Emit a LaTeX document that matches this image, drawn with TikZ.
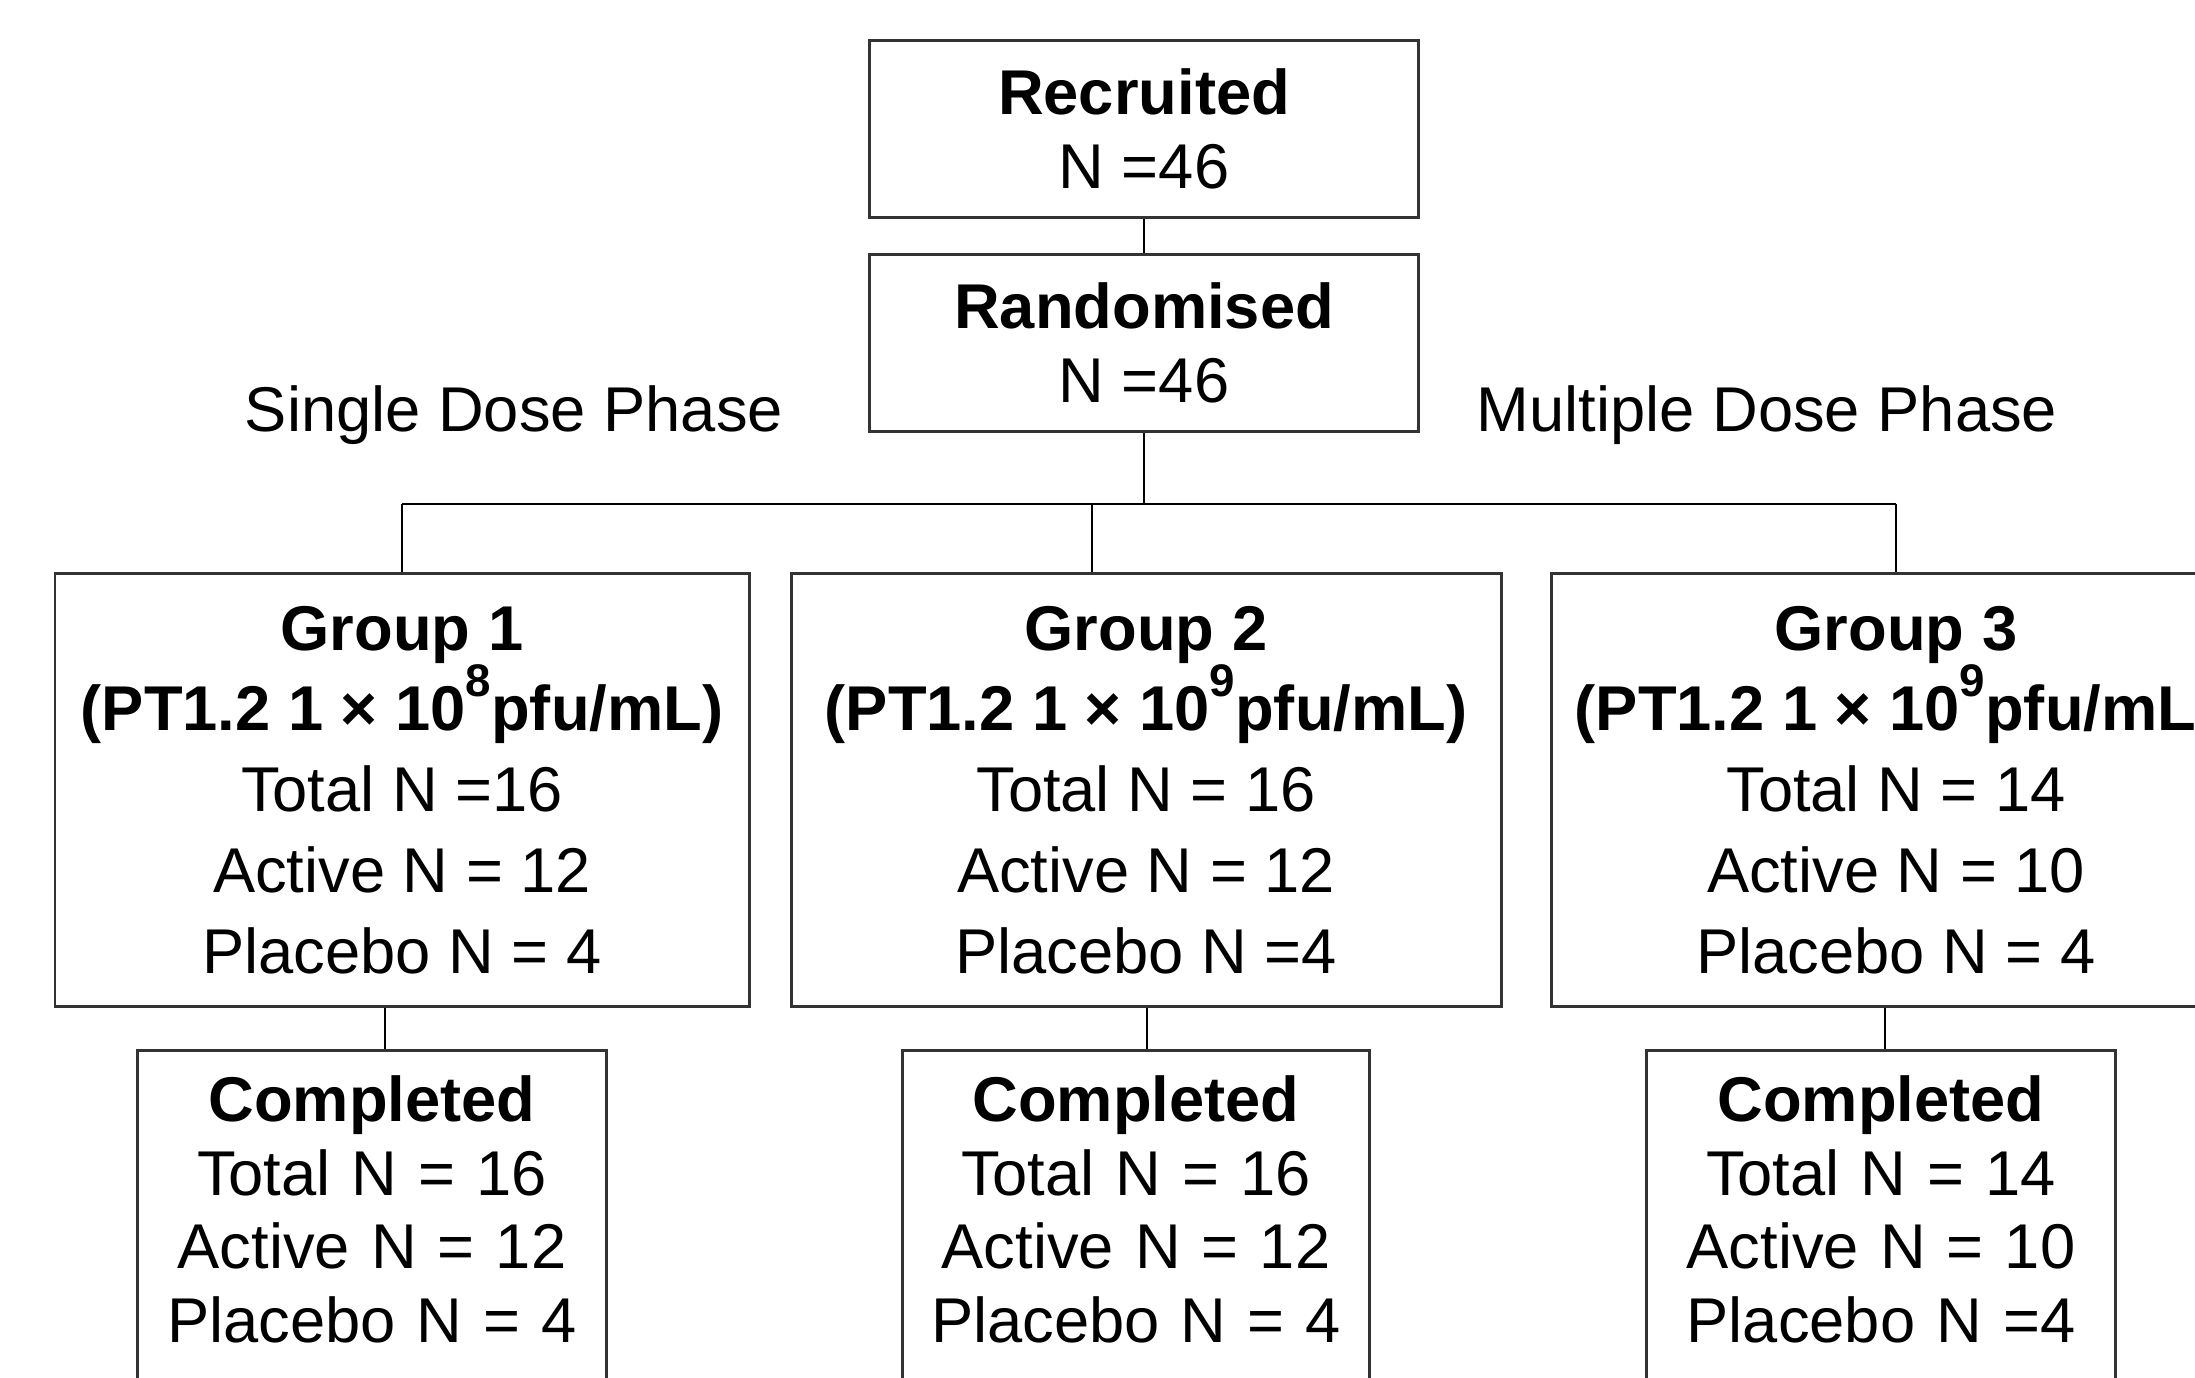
\documentclass[tikz,border=0pt]{standalone}
\usepackage{fontspec}
\setmainfont{Liberation Sans}

\begin{document}
\begin{tikzpicture}[x=1cm,y=1cm,
  font=\fontsize{18pt}{21pt}\selectfont,
  flowbox/.style={draw=black!80,line width=0.85pt,align=center,inner sep=0pt},
  topbox/.style={flowbox,minimum width=5.49cm,minimum height=1.77cm},
  groupbox/.style={flowbox,minimum height=4.33cm,font=\fontsize{18pt}{23pt}\selectfont},
  donebox/.style={flowbox,anchor=north,text width=#1,inner ysep=0.25cm,text depth=3.6cm},
  link/.style={black,line width=0.45pt}]
\useasboundingbox (0,0) rectangle (21.95,13.77);
\clip (0,0) rectangle (21.95,13.77);
\node[topbox] (rec) at (11.44,12.48) {\textbf{Recruited}\\N =46};
\node[topbox] (rand) at (11.44,10.34) {\textbf{Randomised}\\N =46};
\node (single) at (5.14,9.62) {Single Dose Phase};
\node (multi) at (17.67,9.62) {Multiple Dose Phase};
\node[groupbox,minimum width=6.94cm] (g1) at (4.02,5.87)
  {\textbf{Group 1}\\\textbf{(PT1.2 1 × 10\raisebox{0.55em}{\fontsize{13pt}{13pt}\selectfont 8}pfu/mL)}\\Total N =16\\Active N = 12\\Placebo N = 4};
\node[groupbox,minimum width=7.10cm] (g2) at (11.46,5.87)
  {\textbf{Group 2}\\\textbf{(PT1.2 1 × 10\raisebox{0.55em}{\fontsize{13pt}{13pt}\selectfont 9}pfu/mL)}\\Total N = 16\\Active N = 12\\Placebo N =4};
\node[groupbox,minimum width=6.90cm] (g3) at (18.96,5.87)
  {\textbf{Group 3}\\\textbf{(PT1.2 1 × 10\raisebox{0.55em}{\fontsize{13pt}{13pt}\selectfont 9}pfu/mL)}\\Total N = 14\\Active N = 10\\Placebo N = 4};
\node[donebox=4.69cm] (c1) at (3.72,3.28) {\textbf{Completed}\\Total N = 16\\Active N = 12\\Placebo N = 4};
\node[donebox=4.67cm] (c2) at (11.36,3.28) {\textbf{Completed}\\Total N = 16\\Active N = 12\\Placebo N = 4};
\node[donebox=4.69cm] (c3) at (18.81,3.28) {\textbf{Completed}\\Total N = 14\\Active N = 10\\Placebo N =4};
% tree lines
\coordinate (bus) at (11.44,8.73);
\coordinate (drop2) at (10.92,8.73);
\draw[link] (rec) -- (rand);
\draw[link] (rand.south) -- (bus);
\draw[link] (g1.north |- bus) -- (g3.north |- bus);
\draw[link] (g1.north |- bus) -- (g1.north);
\draw[link] (drop2) -- (drop2 |- g2.north);
\draw[link] (g3.north |- bus) -- (g3.north);
\foreach \g/\c/\dx in {g1/c1/0.13,g2/c2/0.11,g3/c3/0.04}{
  \draw[link] ([xshift=\dx cm]\c.north |- \g.south) -- ([xshift=\dx cm]\c.north);}
\end{tikzpicture}
\end{document}
